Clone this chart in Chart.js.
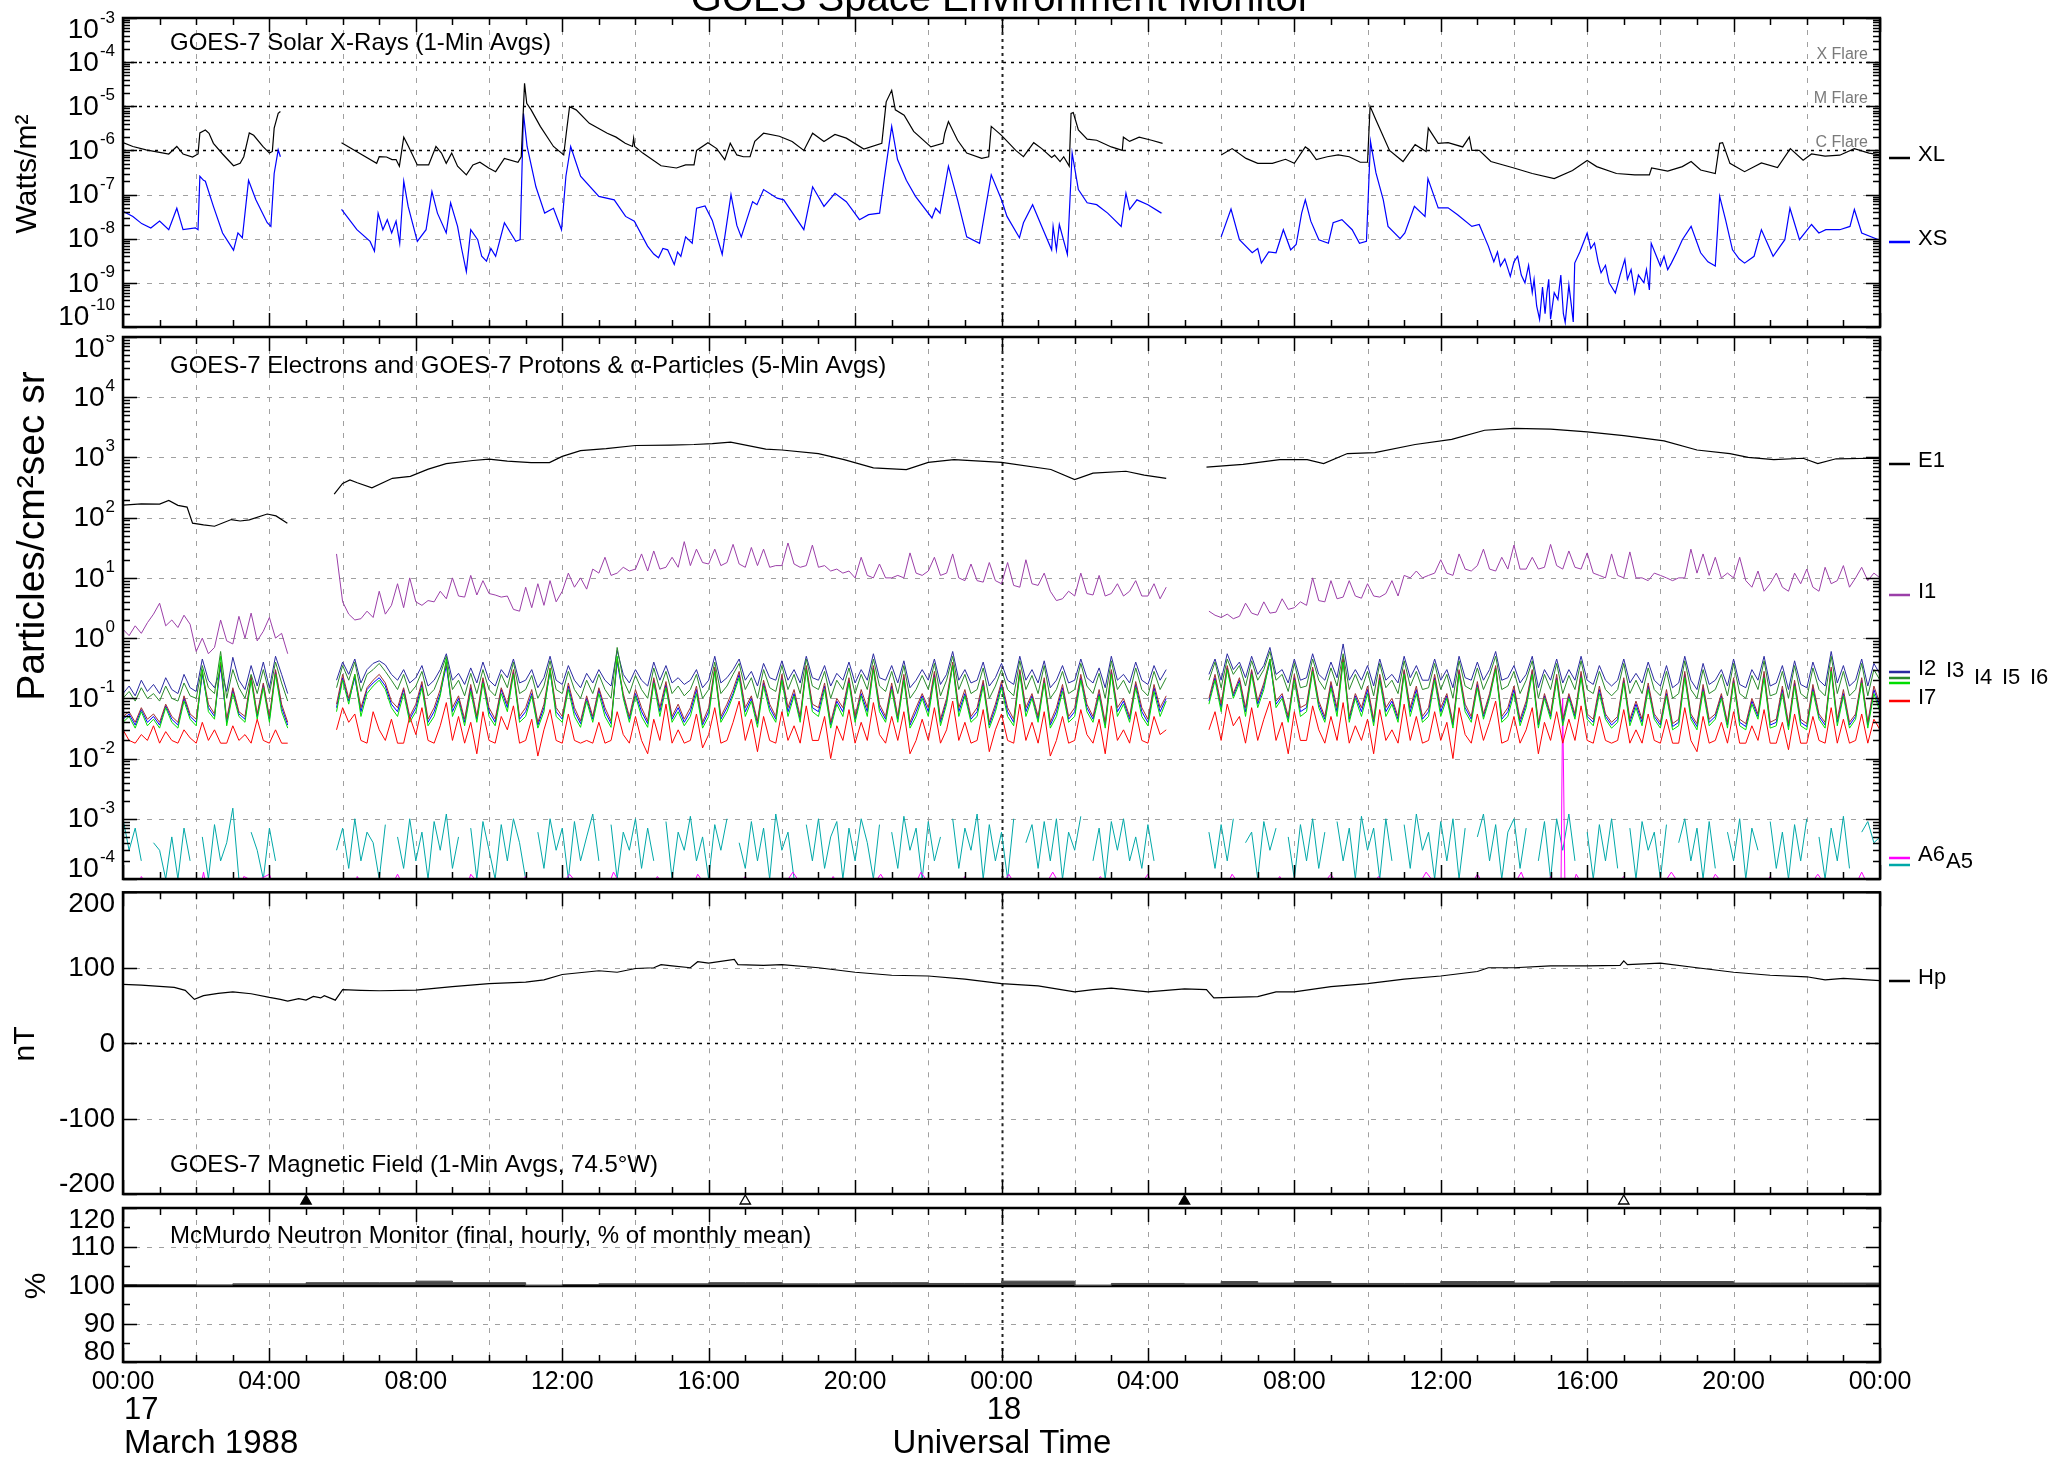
<!DOCTYPE html>
<html>
<head>
<meta charset="utf-8">
<script src="https://cdn.jsdelivr.net/npm/chart.js@4.4.0/dist/chart.umd.min.js"></script>
<style>
  body { margin: 0; background: #fff; width: 2051px; height: 1462px; overflow: hidden; position: relative; }
  canvas { position: absolute; left: 0; }
</style>
</head>
<body>
<canvas id="cX"></canvas>
<canvas id="cP"></canvas>
<canvas id="cM"></canvas>
<canvas id="cN"></canvas>
<script>
// GOES-7 plot, 17-18 March 1988. Time axis in hours since 17 Mar 00:00 UT.

// --- X-rays (1-min), [hour, W/m2], null = data gap
const xlData = [[0,1.5e-6],[0.27,1.23e-6],[0.63,1.03e-6],[1.0,9e-7],[1.25,8.3e-7],[1.47,1.23e-6],[1.64,8.3e-7],[1.9,7.1e-7],[2.05,8.3e-7],[2.1,2.5e-6],[2.25,2.9e-6],[2.35,2.45e-6],[2.47,1.45e-6],[2.72,8.3e-7],[3.02,4.5e-7],[3.2,5.1e-7],[3.3,7.2e-7],[3.45,2.5e-6],[3.57,2.2e-6],[3.82,1.23e-6],[4.0,8.7e-7],[4.08,9.5e-7],[4.13,3.2e-6],[4.24,6.9e-6],[4.3,7.6e-6],[5.0,null],
  [5.97,1.5e-6],[6.39,9.3e-7],[6.93,5.1e-7],[7.0,7.2e-7],[7.2,7.1e-7],[7.35,6.2e-7],[7.46,6.2e-7],[7.55,4.4e-7],[7.67,2.0e-6],[7.8,1.23e-6],[8.04,4.7e-7],[8.35,4.7e-7],[8.55,1.23e-6],[8.7,8.7e-7],[8.83,5.1e-7],[8.98,8.7e-7],[9.14,4.4e-7],[9.38,2.8e-7],[9.56,4.7e-7],[9.75,5.4e-7],[9.99,4e-7],[10.18,3.3e-7],[10.42,6.6e-7],[10.79,5.4e-7],[10.88,7.2e-7],[10.97,3.3e-5],[11.03,1.17e-5],[11.15,8.3e-6],[11.4,3.5e-6],[11.76,1.23e-6],[12.04,7.9e-7],[12.11,2.45e-6],[12.2,9.8e-6],[12.38,8.3e-6],[12.74,4.1e-6],[13.23,2.45e-6],[13.47,2.0e-6],[13.72,1.45e-6],[13.92,1.23e-6],[13.95,1.9e-6],[13.98,1.23e-6],[14.2,8.7e-7],[14.7,4.5e-7],[15.12,4e-7],[15.37,4.7e-7],[15.6,4.7e-7],[15.67,1.0e-6],[15.98,1.5e-6],[16.22,1.1e-6],[16.44,6.2e-7],[16.59,1.45e-6],[16.77,7.9e-7],[16.95,7.2e-7],[17.13,7.2e-7],[17.26,1.6e-6],[17.5,2.45e-6],[17.93,2.1e-6],[18.28,1.6e-6],[18.6,1e-6],[18.84,2.45e-6],[19.15,1.6e-6],[19.45,2.3e-6],[19.76,1.9e-6],[20.24,1.07e-6],[20.73,1.45e-6],[20.85,1.26e-5],[21.0,2.3e-5],[21.1,8.3e-6],[21.34,6.3e-6],[21.6,2.7e-6],[22.07,1.2e-6],[22.4,1.45e-6],[22.45,2.45e-6],[22.55,4.5e-6],[22.8,1.7e-6],[23.05,8.7e-7],[23.46,6.6e-7],[23.65,7.2e-7],[23.72,3.5e-6],[24.0,2.2e-6],[24.39,1e-6],[24.6,7.2e-7],[24.88,1.5e-6],[25.1,1.1e-6],[25.37,6.9e-7],[25.45,7.8e-7],[25.6,5.6e-7],[25.7,7.2e-7],[25.85,4.4e-7],[25.9,6.9e-6],[25.96,7.2e-6],[26.1,2.9e-6],[26.34,1.8e-6],[26.6,1.7e-6],[27.0,1.2e-6],[27.3,1e-6],[27.33,2.0e-6],[27.5,1.6e-6],[27.76,2.0e-6],[28.1,1.7e-6],[28.4,1.45e-6],[29.2,null],
  [30.0,7.9e-7],[30.3,1.1e-6],[30.68,6.6e-7],[31.0,5.1e-7],[31.4,5.1e-7],[31.76,6.3e-7],[32.0,5.1e-7],[32.3,1.2e-6],[32.4,1.05e-6],[32.6,6.2e-7],[32.9,7.2e-7],[33.2,7.9e-7],[33.5,7.2e-7],[33.8,5.4e-7],[34.0,5.4e-7],[34.07,1e-5],[34.23,4.9e-6],[34.6,1e-6],[34.97,5.6e-7],[35.3,1.35e-6],[35.6,9.5e-7],[35.66,3.2e-6],[35.93,1.45e-6],[36.2,1.5e-6],[36.6,1.2e-6],[36.78,2.0e-6],[36.85,1e-6],[37.05,1e-6],[37.37,5.6e-7],[38.0,4e-7],[38.5,3e-7],[39.1,2.3e-7],[39.6,3.5e-7],[40.0,5.9e-7],[40.26,4.3e-7],[40.8,3e-7],[41.3,2.8e-7],[41.7,2.8e-7],[41.76,4e-7],[42.2,3.4e-7],[42.6,4.3e-7],[42.84,5.6e-7],[43.1,3.6e-7],[43.5,3e-7],[43.62,1.45e-6],[43.7,1.5e-6],[43.9,5.1e-7],[44.3,3.3e-7],[44.76,5.2e-7],[45.2,4.1e-7],[45.55,1.1e-6],[45.9,6e-7],[46.13,8.3e-7],[46.5,7.4e-7],[46.9,7.8e-7],[47.3,1.1e-6],[47.7,8.7e-7],[48.0,7.9e-7]];

const xsData = [[0,4.2e-8],[0.27,3.2e-8],[0.51,2.2e-8],[0.76,1.75e-8],[1.0,2.5e-8],[1.25,1.6e-8],[1.47,4.9e-8],[1.64,1.6e-8],[1.98,1.75e-8],[2.05,1.6e-8],[2.1,2.6e-7],[2.2,2.1e-7],[2.25,2.0e-7],[2.47,5.4e-8],[2.72,1.35e-8],[3.02,5.5e-9],[3.14,1.35e-8],[3.26,1.05e-8],[3.43,2.1e-7],[3.63,7.6e-8],[3.94,2.3e-8],[4.04,1.9e-8],[4.13,3e-7],[4.24,1.03e-6],[4.3,7.2e-7],[5.0,null],
  [5.97,4.6e-8],[6.39,1.6e-8],[6.75,8.7e-9],[6.87,5.2e-9],[6.97,3.8e-8],[7.1,1.6e-8],[7.22,2.7e-8],[7.34,1.35e-8],[7.46,2.5e-8],[7.56,7.9e-9],[7.67,2.0e-7],[7.79,5.4e-8],[8.04,8.7e-9],[8.28,1.6e-8],[8.44,1.17e-7],[8.59,3.8e-8],[8.83,1.35e-8],[8.95,6.5e-8],[9.14,1.9e-8],[9.25,6e-9],[9.38,1.8e-9],[9.5,1.6e-8],[9.69,9.5e-9],[9.8,4e-9],[9.93,3.1e-9],[10.05,6e-9],[10.18,4e-9],[10.42,2.3e-8],[10.73,8.7e-9],[10.85,9.5e-9],[10.94,6.9e-6],[11.04,1.23e-6],[11.28,1.5e-7],[11.52,3.8e-8],[11.76,4.9e-8],[11.98,1.6e-8],[12.1,2.6e-7],[12.23,1.23e-6],[12.5,2.6e-7],[13.0,9.1e-8],[13.42,7.6e-8],[13.73,3.2e-8],[13.97,2.5e-8],[14.33,6.8e-9],[14.5,4.5e-9],[14.63,3.7e-9],[14.75,6e-9],[14.88,5.6e-9],[15.06,2.6e-9],[15.15,5e-9],[15.24,4e-9],[15.37,1.1e-8],[15.55,7.9e-9],[15.67,4.9e-8],[15.9,5.5e-8],[16.1,2.6e-8],[16.37,4.4e-9],[16.61,1e-7],[16.77,2e-8],[16.89,1.1e-8],[17.2,6.9e-8],[17.32,5.9e-8],[17.5,1.3e-7],[17.87,8.3e-8],[18.05,7.6e-8],[18.6,1.6e-8],[18.84,1.5e-7],[19.15,5.4e-8],[19.45,1.07e-7],[19.76,6.9e-8],[20.12,2.7e-8],[20.37,3.5e-8],[20.67,3.8e-8],[20.79,2.1e-7],[21.0,3.5e-6],[21.16,6.2e-7],[21.4,2.1e-7],[21.65,9.1e-8],[22.1,2.95e-8],[22.2,4.9e-8],[22.32,3.8e-8],[22.45,1.5e-7],[22.55,4.4e-7],[22.8,7.6e-8],[23.05,1.1e-8],[23.4,7.9e-9],[23.72,2.8e-7],[24.0,7.6e-8],[24.15,3.2e-8],[24.49,1.05e-8],[24.6,2.3e-8],[24.85,5.9e-8],[25.1,1.9e-8],[25.37,5.6e-9],[25.41,1.9e-8],[25.5,5.6e-9],[25.58,2.1e-8],[25.8,4.4e-9],[25.93,8.7e-7],[26.1,1.3e-7],[26.34,6.5e-8],[26.6,5.9e-8],[26.9,3.8e-8],[27.27,1.9e-8],[27.4,1.07e-7],[27.5,4.6e-8],[27.7,7.6e-8],[28.0,5.9e-8],[28.37,3.8e-8],[29.2,null],
  [30.0,1.1e-8],[30.27,4.7e-8],[30.5,9.5e-9],[30.85,4.8e-9],[31.0,6e-9],[31.1,2.8e-9],[31.3,5e-9],[31.5,4.8e-9],[31.7,1.6e-8],[31.9,5.6e-9],[32.05,7.4e-9],[32.2,3.8e-8],[32.3,7.6e-8],[32.45,2.5e-8],[32.67,9.5e-9],[32.93,7.9e-9],[33.06,2.3e-8],[33.3,2.7e-8],[33.58,1.6e-8],[33.78,7.9e-9],[33.97,8.7e-9],[34.08,1.6e-6],[34.23,3.1e-7],[34.43,7.6e-8],[34.56,1.9e-8],[34.89,1e-8],[35.02,1.35e-8],[35.28,5.4e-8],[35.57,3.2e-8],[35.65,2.3e-7],[35.93,5e-8],[36.2,5e-8],[36.46,3.5e-8],[36.85,1.9e-8],[37.05,2.1e-8],
  [37.3,6.8e-9],[37.45,3e-9],[37.55,5e-9],[37.63,2.4e-9],[37.75,3.5e-9],[37.9,1.4e-9],[38.0,3e-9],[38.1,4e-9],[38.2,1.5e-9],[38.3,1e-9],[38.4,2.5e-9],[38.5,6e-10],[38.55,1.2e-9],[38.62,3e-10],[38.7,1.5e-10],[38.78,8e-10],[38.85,2e-10],[38.9,5.9e-10],[38.95,1.2e-9],[39.0,1.5e-10],[39.1,6e-10],[39.2,4.2e-10],[39.28,1.5e-9],[39.35,2e-10],[39.4,1.26e-10],[39.5,9e-10],[39.57,3e-10],[39.62,1.3e-10],[39.66,2.8e-9],[39.8,5e-9],[40.0,1.35e-8],[40.1,6e-9],[40.2,8e-9],[40.3,3e-9],[40.38,1.7e-9],[40.5,2.5e-9],[40.6,1e-9],[40.77,5.9e-10],[40.9,1.5e-9],[41.03,3.4e-9],[41.1,1.2e-9],[41.2,2e-9],[41.3,5.9e-10],[41.4,1.5e-9],[41.55,1e-9],[41.62,2e-9],[41.7,6.9e-10],[41.75,7.9e-9],[42.0,2.4e-9],[42.1,4e-9],[42.2,2e-9],[42.3,2.8e-9],[42.45,5e-9],[42.6,9.5e-9],[42.84,1.9e-8],[43.1,4.8e-9],[43.3,3e-9],[43.5,2.4e-9],[43.62,9.1e-8],[43.78,2.7e-8],[43.97,5.6e-9],[44.15,3.5e-9],[44.3,2.8e-9],[44.56,4e-9],[44.76,1.6e-8],[45.08,4e-9],[45.4,9.5e-9],[45.54,4.9e-8],[45.8,9.5e-9],[46.13,2.1e-8],[46.33,1.35e-8],[46.52,1.6e-8],[46.9,1.6e-8],[47.18,1.9e-8],[47.3,4.6e-8],[47.5,1.35e-8],[47.96,9.5e-9]];

// --- electrons E1, [hour, particles/cm2 s sr]
const e1Data = [[0,162],[0.5,170],[1.0,168],[1.25,193],[1.5,160],[1.75,150],[1.9,81],[2.2,76],[2.5,72],[2.96,93],[3.2,88],[3.45,92],[3.94,115],[4.18,107],[4.49,81],[5.0,null],
  [5.77,245],[6.0,370],[6.2,424],[6.4,380],[6.8,313],[7.36,450],[7.85,486],[8.34,640],[8.83,790],[9.56,890],[10.0,940],[10.5,870],[11.15,820],[11.65,820],[12.0,1040],[12.5,1300],[13.2,1400],[14.0,1580],[14.95,1600],[15.6,1640],[16.1,1700],[16.6,1800],[17.56,1370],[18.0,1330],[19.0,1160],[19.7,920],[20.5,670],[21.4,630],[22.0,830],[22.7,920],[23.3,880],[24.0,830],[25.35,630],[26.0,430],[26.5,550],[27.4,590],[27.9,510],[28.5,450],[29.0,null],
  [29.6,690],[30.6,770],[31.6,920],[32.35,920],[32.8,790],[33.45,1160],[34.2,1200],[35.3,1640],[36.3,2000],[37.2,2830],[38.0,3030],[39.0,2950],[40.0,2650],[41.0,2300],[42.1,1880],[43.0,1330],[43.9,1160],[44.4,1000],[45.1,920],[45.9,970],[46.3,790],[46.8,950],[47.8,970],[48,960]];

// --- protons & alphas, 10-min samples from 00:00 (index/6 = hour), null = gap
const i1Vals = [
  1.4,1.1,1.6,1.2,1.8,2.5,3.8,1.6,2.0,1.5,2.4,1.7,  0.6,1.0,0.55,0.7,2.0,0.9,0.8,2.3,1.0,2.6,0.9,1.3,  2.2,1.0,1.2,0.55,
  null,null,null,null,null,null,null,
  25,
  4,2.5,2.0,2.1,2.8,2.2,6,2.5,3.5,8,3.2,10,  4,3.5,4.2,4,6,4.5,10,5,4.8,11,5.2,9,  5.5,5.2,4.8,5,3.0,2.8,7,3.2,8,3.5,9,4,
  6,12,7,10,6.5,14,12,22,11,12,15,13,  14,25,13,28,14,15,22,15,40,16,30,18,  17,30,16,18,36,17,15,32,16,30,15,16,
  16,38,17,15,16,35,15,16,13,14,12,13,  10,22,11,10,17,10,10,11,10,26,12,11,  13,22,11,12,25,10,9,17,9,8.5,18,9,
  8,18,7.5,7,20,8,7.5,12,6,4.2,4.5,6,  5,12,5.5,5.2,11,5,5.5,8,5,6,9,5,  5,8,4.5,7,
  null,null,null,null,null,null,
  2.8,2.4,
  2.2,2.5,2.1,2.3,3.8,2.6,2.4,4.0,2.6,2.7,4.5,3.0,  3.2,4,3.5,10,4.2,4,9,4.5,4.8,9,5,4.6,  8,5,4.8,5.5,9,5,11,10,13,10,11,12,
  20,12,11,25,14,13,16,30,14,13,22,14,  35,14,14,22,14,15,36,16,14,28,15,14,  26,12,11,10,25,11,10,27,10,10,9,12,
  11,10,9,10,10,30,12,25,11,22,10,12,  10,22,9,7,13,6,8,12,7,6,12,8,  14,7,6,15,8,9,16,7,10,15,9,12,
  10];
const i2Vals = [
  0.12,0.16,0.11,0.2,0.13,0.17,0.12,0.22,0.14,0.12,0.25,0.15,  0.13,0.45,0.2,0.15,0.3,0.13,0.48,0.2,0.14,0.35,0.16,0.4,  0.15,0.5,0.25,0.12,
  null,null,null,null,null,null,null,
  0.2,
  0.4,0.25,0.45,0.18,0.3,0.38,0.42,0.36,0.25,0.2,0.3,0.18,  0.22,0.35,0.16,0.2,0.3,0.55,0.2,0.26,0.17,0.32,0.18,0.4,  0.2,0.16,0.3,0.22,0.45,0.18,0.2,0.3,0.15,0.22,0.5,0.2,
  0.17,0.35,0.2,0.15,0.26,0.18,0.3,0.2,0.16,0.62,0.25,0.18,  0.3,0.2,0.16,0.4,0.2,0.35,0.18,0.22,0.17,0.2,0.3,0.15,  0.2,0.5,0.18,0.22,0.3,0.45,0.2,0.28,0.16,0.38,0.22,0.2,
  0.42,0.2,0.3,0.18,0.5,0.22,0.2,0.35,0.16,0.26,0.2,0.4,  0.18,0.3,0.2,0.55,0.22,0.2,0.35,0.18,0.42,0.15,0.2,0.3,  0.2,0.45,0.17,0.25,0.6,0.2,0.3,0.18,0.2,0.4,0.16,0.22,
  0.38,0.2,0.17,0.5,0.2,0.3,0.18,0.42,0.15,0.2,0.35,0.18,  0.2,0.45,0.22,0.18,0.32,0.15,0.5,0.2,0.25,0.18,0.4,0.2,  0.17,0.35,0.2,0.3,
  null,null,null,null,null,null,
  0.25,0.45,
  0.2,0.55,0.3,0.4,0.22,0.5,0.25,0.35,0.7,0.25,0.3,0.18,  0.45,0.2,0.22,0.55,0.25,0.2,0.4,0.22,0.8,0.2,0.3,0.2,  0.35,0.16,0.45,0.2,0.25,0.18,0.5,0.22,0.35,0.2,0.2,0.45,
  0.2,0.3,0.15,0.5,0.22,0.2,0.4,0.2,0.3,0.6,0.2,0.22,  0.35,0.18,0.25,0.5,0.15,0.3,0.2,0.45,0.18,0.3,0.2,0.5,  0.2,0.17,0.35,0.2,0.16,0.2,0.45,0.18,0.26,0.18,0.4,0.2,
  0.16,0.35,0.15,0.18,0.5,0.2,0.14,0.38,0.17,0.2,0.3,0.16,  0.45,0.17,0.15,0.3,0.2,0.5,0.16,0.18,0.35,0.14,0.42,0.17,  0.15,0.4,0.2,0.16,0.6,0.18,0.35,0.16,0.2,0.45,0.16,0.38,
  0.25];
const i3Vals = [
  0.045,0.055,0.036,0.065,0.04,0.05,0.036,0.075,0.045,0.036,0.1,0.05,  0.04,0.25,0.07,0.05,0.35,0.04,0.14,0.055,0.045,0.22,0.05,0.17,  0.045,0.28,0.07,0.036,
  null,null,null,null,null,null,null,
  0.07,
  0.22,0.09,0.22,0.06,0.14,0.18,0.22,0.16,0.08,0.06,0.14,0.045,  0.07,0.17,0.04,0.06,0.12,0.35,0.06,0.1,0.04,0.15,0.045,0.2,  0.06,0.04,0.14,0.07,0.27,0.045,0.06,0.12,0.036,0.07,0.28,0.06,
  0.045,0.16,0.06,0.038,0.1,0.045,0.14,0.06,0.038,0.4,0.11,0.045,  0.12,0.06,0.038,0.2,0.06,0.17,0.045,0.07,0.04,0.06,0.14,0.036,  0.06,0.3,0.045,0.07,0.12,0.25,0.06,0.1,0.038,0.18,0.07,0.045,
  0.22,0.06,0.12,0.045,0.32,0.07,0.06,0.16,0.036,0.09,0.06,0.2,  0.045,0.12,0.06,0.32,0.07,0.045,0.16,0.045,0.22,0.036,0.06,0.11,  0.06,0.25,0.04,0.09,0.36,0.06,0.12,0.045,0.06,0.18,0.036,0.07,
  0.17,0.06,0.04,0.28,0.06,0.11,0.045,0.2,0.036,0.06,0.15,0.045,  0.06,0.22,0.07,0.045,0.12,0.036,0.28,0.06,0.09,0.045,0.17,0.06,  0.04,0.15,0.06,0.1,
  null,null,null,null,null,null,
  0.09,0.22,
  0.07,0.32,0.11,0.2,0.06,0.28,0.08,0.16,0.4,0.08,0.11,0.045,  0.22,0.06,0.07,0.3,0.08,0.045,0.17,0.06,0.45,0.045,0.11,0.06,  0.14,0.04,0.22,0.06,0.09,0.045,0.28,0.06,0.14,0.045,0.06,0.22,
  0.06,0.11,0.036,0.28,0.07,0.045,0.17,0.05,0.11,0.32,0.045,0.06,  0.14,0.04,0.08,0.28,0.036,0.11,0.05,0.22,0.04,0.11,0.05,0.25,  0.05,0.04,0.14,0.05,0.036,0.045,0.2,0.04,0.08,0.04,0.16,0.05,
  0.036,0.12,0.034,0.04,0.25,0.05,0.034,0.15,0.04,0.05,0.11,0.036,  0.2,0.04,0.034,0.09,0.05,0.25,0.036,0.04,0.14,0.034,0.18,0.04,  0.034,0.15,0.05,0.036,0.3,0.04,0.12,0.036,0.05,0.2,0.036,0.14,
  0.07];
const i4Vals = [
  0.05,0.06,0.04,0.07,0.045,0.055,0.04,0.08,0.05,0.04,0.11,0.055,  0.045,0.28,0.08,0.055,0.4,0.045,0.15,0.06,0.05,0.24,0.055,0.18,  0.05,0.3,0.08,0.04,
  null,null,null,null,null,null,null,
  0.08,
  0.25,0.1,0.25,0.07,0.15,0.2,0.25,0.18,0.09,0.07,0.15,0.05,  0.08,0.19,0.045,0.07,0.14,0.4,0.07,0.11,0.045,0.17,0.05,0.22,  0.07,0.045,0.15,0.08,0.3,0.05,0.07,0.14,0.04,0.08,0.32,0.07,
  0.05,0.18,0.07,0.042,0.11,0.05,0.15,0.07,0.042,0.45,0.12,0.05,  0.14,0.07,0.042,0.22,0.07,0.19,0.05,0.08,0.045,0.07,0.16,0.04,  0.07,0.33,0.05,0.08,0.14,0.28,0.07,0.11,0.042,0.2,0.08,0.05,
  0.25,0.07,0.14,0.05,0.35,0.08,0.07,0.18,0.04,0.1,0.07,0.22,  0.05,0.14,0.07,0.35,0.08,0.05,0.18,0.05,0.25,0.04,0.07,0.12,  0.07,0.28,0.045,0.1,0.4,0.07,0.14,0.05,0.07,0.2,0.04,0.08,
  0.19,0.07,0.045,0.3,0.07,0.12,0.05,0.22,0.04,0.07,0.17,0.05,  0.07,0.25,0.08,0.05,0.14,0.04,0.3,0.07,0.1,0.05,0.19,0.07,  0.045,0.17,0.07,0.11,
  null,null,null,null,null,null,
  0.1,0.25,
  0.08,0.35,0.12,0.22,0.07,0.3,0.09,0.18,0.45,0.09,0.12,0.05,  0.25,0.07,0.08,0.33,0.09,0.05,0.19,0.07,0.5,0.05,0.12,0.07,  0.16,0.045,0.25,0.07,0.1,0.05,0.3,0.07,0.16,0.05,0.07,0.25,
  0.07,0.12,0.04,0.3,0.08,0.05,0.19,0.055,0.12,0.35,0.05,0.07,  0.16,0.045,0.09,0.3,0.04,0.12,0.055,0.25,0.045,0.12,0.055,0.28,  0.055,0.045,0.16,0.055,0.04,0.05,0.22,0.045,0.09,0.045,0.18,0.055,
  0.04,0.14,0.038,0.045,0.28,0.055,0.038,0.17,0.045,0.055,0.12,0.04,  0.22,0.045,0.038,0.1,0.055,0.28,0.04,0.045,0.16,0.038,0.2,0.045,  0.038,0.17,0.055,0.04,0.33,0.045,0.14,0.04,0.055,0.22,0.04,0.16,
  0.08];
const i5Vals = [
  0.1,0.13,0.09,0.15,0.1,0.12,0.09,0.16,0.1,0.09,0.18,0.11,  0.1,0.35,0.15,0.12,0.6,0.1,0.3,0.15,0.1,0.25,0.12,0.3,  0.12,0.4,0.18,0.09,
  null,null,null,null,null,null,null,
  0.15,
  0.35,0.2,0.4,0.13,0.25,0.3,0.38,0.28,0.2,0.14,0.25,0.12,  0.16,0.28,0.11,0.14,0.25,0.5,0.14,0.2,0.11,0.26,0.12,0.3,  0.14,0.11,0.25,0.15,0.4,0.12,0.14,0.24,0.1,0.16,0.42,0.14,
  0.12,0.28,0.14,0.1,0.2,0.12,0.25,0.14,0.1,0.7,0.2,0.12,  0.24,0.14,0.1,0.32,0.14,0.28,0.12,0.16,0.11,0.14,0.25,0.1,  0.14,0.4,0.12,0.16,0.25,0.38,0.14,0.22,0.1,0.3,0.15,0.13,
  0.35,0.14,0.25,0.12,0.45,0.16,0.14,0.28,0.1,0.2,0.14,0.32,  0.12,0.25,0.14,0.45,0.16,0.13,0.28,0.12,0.35,0.1,0.14,0.24,  0.14,0.38,0.11,0.2,0.5,0.14,0.25,0.12,0.14,0.32,0.1,0.16,
  0.3,0.14,0.11,0.42,0.14,0.24,0.12,0.35,0.1,0.14,0.28,0.12,  0.14,0.38,0.16,0.12,0.26,0.1,0.42,0.14,0.2,0.12,0.32,0.14,  0.11,0.28,0.14,0.22,
  null,null,null,null,null,null,
  0.2,0.4,
  0.15,0.45,0.25,0.35,0.16,0.42,0.2,0.3,0.6,0.2,0.25,0.13,  0.38,0.15,0.16,0.45,0.2,0.14,0.32,0.16,0.55,0.14,0.25,0.14,  0.28,0.11,0.38,0.15,0.2,0.12,0.42,0.16,0.28,0.14,0.15,0.38,
  0.14,0.25,0.1,0.42,0.16,0.14,0.32,0.14,0.24,0.5,0.14,0.16,  0.28,0.12,0.2,0.42,0.1,0.25,0.14,0.38,0.12,0.24,0.14,0.42,  0.14,0.12,0.28,0.14,0.11,0.14,0.38,0.12,0.2,0.12,0.32,0.14,
  0.11,0.28,0.1,0.12,0.42,0.14,0.1,0.3,0.12,0.14,0.25,0.11,  0.38,0.12,0.1,0.24,0.14,0.42,0.11,0.12,0.28,0.1,0.35,0.12,  0.1,0.32,0.14,0.11,0.5,0.12,0.28,0.11,0.14,0.38,0.11,0.3,
  0.2];
const i6Vals = [
  0.04,0.05,0.032,0.06,0.035,0.045,0.032,0.07,0.04,0.032,0.09,0.045,  0.035,0.3,0.06,0.045,0.5,0.035,0.12,0.05,0.04,0.2,0.045,0.15,  0.04,0.25,0.06,0.032,
  null,null,null,null,null,null,null,
  0.06,
  0.2,0.08,0.25,0.05,0.12,0.16,0.2,0.14,0.07,0.05,0.12,0.04,  0.06,0.15,0.035,0.05,0.11,0.45,0.05,0.09,0.035,0.13,0.04,0.18,  0.05,0.035,0.12,0.06,0.25,0.04,0.05,0.11,0.032,0.06,0.3,0.05,
  0.04,0.14,0.05,0.033,0.09,0.04,0.12,0.05,0.033,0.5,0.1,0.04,  0.11,0.05,0.033,0.18,0.05,0.15,0.04,0.06,0.035,0.05,0.12,0.032,  0.05,0.28,0.04,0.06,0.11,0.22,0.05,0.09,0.033,0.16,0.06,0.04,
  0.2,0.05,0.11,0.04,0.3,0.06,0.05,0.14,0.032,0.08,0.05,0.18,  0.04,0.11,0.05,0.3,0.06,0.04,0.14,0.04,0.2,0.032,0.05,0.1,  0.05,0.22,0.035,0.08,0.35,0.05,0.11,0.04,0.05,0.16,0.032,0.06,
  0.15,0.05,0.035,0.25,0.05,0.1,0.04,0.18,0.032,0.05,0.13,0.04,  0.05,0.2,0.06,0.04,0.11,0.032,0.25,0.05,0.08,0.04,0.15,0.05,  0.035,0.13,0.05,0.09,
  null,null,null,null,null,null,
  0.08,0.2,
  0.06,0.3,0.1,0.18,0.05,0.25,0.07,0.14,0.45,0.07,0.1,0.04,  0.2,0.05,0.06,0.28,0.07,0.04,0.15,0.05,0.4,0.04,0.1,0.05,  0.12,0.035,0.2,0.05,0.08,0.04,0.25,0.05,0.12,0.04,0.05,0.2,
  0.05,0.1,0.032,0.25,0.06,0.04,0.15,0.045,0.1,0.3,0.04,0.05,  0.12,0.035,0.07,0.25,0.032,0.1,0.045,0.2,0.035,0.1,0.045,0.22,  0.045,0.035,0.12,0.045,0.032,0.04,0.18,0.035,0.07,0.035,0.14,0.045,
  0.032,0.11,0.03,0.035,0.22,0.045,0.03,0.13,0.035,0.045,0.1,0.032,  0.18,0.035,0.03,0.08,0.045,0.22,0.032,0.035,0.12,0.03,0.16,0.035,  0.03,0.13,0.045,0.032,0.28,0.035,0.11,0.032,0.045,0.18,0.032,0.12,
  0.06];
const i7Vals = [
  0.03,0.02,0.018,0.025,0.02,0.035,0.018,0.028,0.02,0.018,0.03,0.022,  0.018,0.04,0.02,0.03,0.018,0.018,0.035,0.02,0.025,0.018,0.045,0.02,  0.018,0.03,0.018,0.018,
  null,null,null,null,null,null,null,
  0.03,
  0.07,0.04,0.055,0.02,0.018,0.06,0.03,0.02,0.045,0.018,0.018,0.05,  0.025,0.07,0.02,0.018,0.035,0.085,0.02,0.05,0.018,0.04,0.012,0.06,  0.02,0.018,0.05,0.03,0.075,0.018,0.02,0.045,0.011,0.03,0.065,0.02,
  0.018,0.055,0.02,0.018,0.02,0.018,0.04,0.018,0.02,0.06,0.025,0.018,  0.05,0.02,0.012,0.045,0.02,0.08,0.018,0.03,0.018,0.02,0.055,0.015,  0.025,0.07,0.018,0.02,0.04,0.09,0.02,0.045,0.013,0.05,0.02,0.018,
  0.06,0.02,0.035,0.018,0.075,0.02,0.02,0.05,0.01,0.035,0.02,0.065,  0.018,0.04,0.02,0.085,0.025,0.018,0.05,0.02,0.06,0.012,0.02,0.045,  0.02,0.07,0.018,0.03,0.09,0.02,0.04,0.018,0.02,0.065,0.013,0.03,
  0.055,0.02,0.018,0.08,0.02,0.04,0.018,0.06,0.011,0.02,0.05,0.018,  0.02,0.065,0.025,0.018,0.045,0.012,0.075,0.02,0.03,0.018,0.06,0.02,  0.018,0.05,0.025,0.03,
  null,null,null,null,null,null,
  0.03,0.06,
  0.02,0.08,0.035,0.05,0.018,0.07,0.02,0.045,0.09,0.02,0.04,0.012,  0.06,0.02,0.02,0.075,0.03,0.018,0.05,0.02,0.085,0.018,0.035,0.02,  0.045,0.012,0.065,0.02,0.03,0.018,0.08,0.02,0.05,0.018,0.02,0.06,
  0.02,0.04,0.01,0.07,0.025,0.018,0.055,0.02,0.04,0.09,0.018,0.02,  0.05,0.018,0.03,0.07,0.012,0.04,0.02,0.06,0.018,0.045,0.02,0.075,  0.02,0.018,0.05,0.02,0.018,0.02,0.065,0.018,0.03,0.018,0.055,0.02,
  0.018,0.045,0.018,0.018,0.07,0.02,0.013,0.05,0.018,0.02,0.04,0.018,  0.06,0.018,0.018,0.035,0.02,0.065,0.018,0.018,0.04,0.014,0.055,0.018,  0.018,0.05,0.02,0.018,0.07,0.018,0.045,0.018,0.02,0.055,0.018,0.045,
  0.03];
const a5Vals = [
  1e-3,3e-4,7e-4,2e-4,null,4e-4,3e-4,1e-4,5e-4,1e-4,7e-4,2e-4,  null,5e-4,1e-4,8e-4,2e-4,4e-4,1.5e-3,1e-4,null,6e-4,3e-4,1e-4,  7e-4,2e-4,null,4e-4,
  null,null,null,null,null,null,null,
  3e-4,
  7e-4,1.5e-4,1e-3,2e-4,6e-4,4e-4,1e-4,8e-4,null,5e-4,1.5e-4,1e-3,  2e-4,6e-4,1e-4,9e-4,3e-4,1.2e-3,1.5e-4,5e-4,null,7e-4,1e-4,9e-4,  3e-4,1e-4,8e-4,2e-4,1e-3,4e-4,1e-4,null,6e-4,1.5e-4,1e-3,3e-4,
  7e-4,1e-4,9e-4,2e-4,5e-4,1.2e-3,2e-4,null,8e-4,1e-4,6e-4,3e-4,  1e-3,1.5e-4,7e-4,2e-4,null,9e-4,1e-4,6e-4,3e-4,1.1e-3,2e-4,5e-4,  1e-4,8e-4,3e-4,1e-3,null,4e-4,1.5e-4,9e-4,2e-4,7e-4,1e-4,1.2e-3,
  3e-4,6e-4,1e-4,null,8e-4,2e-4,1e-3,1.5e-4,5e-4,9e-4,1e-4,7e-4,  2e-4,1e-3,4e-4,1e-4,8e-4,null,6e-4,1.5e-4,1.1e-3,3e-4,7e-4,1e-4,  9e-4,2e-4,5e-4,null,1e-3,1.5e-4,7e-4,3e-4,1.2e-3,1e-4,8e-4,2e-4,
  6e-4,1e-4,1e-3,null,4e-4,8e-4,1.5e-4,9e-4,2e-4,1e-3,1e-4,6e-4,  3e-4,1.1e-3,null,2e-4,7e-4,1e-4,9e-4,3e-4,1e-3,2e-4,5e-4,1.5e-4,  8e-4,2e-4,null,5e-4,
  null,null,null,null,null,null,
  6e-4,1.5e-4,
  8e-4,2e-4,1e-3,null,4e-4,6e-4,1e-4,9e-4,3e-4,7e-4,null,5e-4,  1e-4,8e-4,2e-4,1e-3,1.5e-4,6e-4,null,9e-4,2e-4,7e-4,1e-4,1.1e-3,  3e-4,7e-4,1e-4,1e-3,2e-4,null,8e-4,1.5e-4,1.2e-3,3e-4,6e-4,1e-4,
  9e-4,2e-4,1e-3,1e-4,7e-4,null,5e-4,1.2e-3,2e-4,8e-4,1e-4,6e-4,  1e-3,1.5e-4,7e-4,null,2e-4,9e-4,1e-4,1e-3,3e-4,1.2e-3,2e-4,null,  6e-4,1e-4,8e-4,2e-4,1e-3,1.5e-4,null,7e-4,1e-4,9e-4,3e-4,6e-4,
  1e-4,8e-4,null,4e-4,1e-3,2e-4,7e-4,1e-4,9e-4,1.5e-4,null,6e-4,  2e-4,1e-3,1e-4,7e-4,3e-4,null,9e-4,1.5e-4,6e-4,1e-4,8e-4,2e-4,  1e-3,null,5e-4,1e-4,7e-4,2e-4,1.1e-3,1.5e-4,null,6e-4,9e-4,4e-4,
  5e-4];

// A6 mostly sits below the axis floor; [hour, value]
const a6Data = [[0.2,3e-5],[0.5,1.1e-4],[0.8,6e-5],[1.1,3e-5],[2.0,3e-5],[2.2,1.3e-4],[2.4,3e-5],[3.0,3e-5],[3.3,1.1e-4],[3.6,9e-5],[4.0,1.2e-4],[4.3,3e-5],[5.0,null],
  [6.1,3e-5],[6.4,1.1e-4],[7.0,3e-5],[7.5,1.2e-4],[8.0,3e-5],[8.5,9e-5],[9.2,3e-5],[9.5,1.2e-4],[10.3,3e-5],[11.0,1.1e-4],[11.5,3e-5],[12.2,1.2e-4],[13.0,3e-5],[13.4,1.3e-4],[14.0,3e-5],[14.6,1.1e-4],[15.3,3e-5],[15.7,1.2e-4],[16.4,3e-5],[17.0,1.1e-4],[17.6,3e-5],[18.3,1.3e-4],[19.0,3e-5],[19.4,1.1e-4],[20.0,3e-5],[20.7,1.2e-4],[21.3,3e-5],[21.8,1.3e-4],[22.5,3e-5],[23.0,1.1e-4],[23.6,3e-5],[24.2,1.2e-4],[24.8,3e-5],[25.4,1.3e-4],[26.0,3e-5],[26.7,1.1e-4],[27.3,3e-5],[28.0,1.2e-4],[28.4,3e-5],[29.0,null],
  [29.8,3e-5],[30.3,1.2e-4],[31.0,3e-5],[31.6,1.1e-4],[32.2,3e-5],[33.0,1.2e-4],[33.6,3e-5],[34.3,1.1e-4],[35.0,3e-5],[35.6,1.3e-4],[36.4,3e-5],[37.0,1.2e-4],[37.6,3e-5],[38.2,1.3e-4],[38.6,3e-5],[39.0,1.1e-4],[39.28,3e-5],[39.33,0.1],[39.4,3e-5],[39.7,1.2e-4],[40.3,3e-5],[41.0,1.1e-4],[41.6,3e-5],[42.3,1.3e-4],[43.0,3e-5],[43.5,1.2e-4],[44.3,3e-5],[45.0,1.1e-4],[45.6,3e-5],[46.3,1.2e-4],[47.0,3e-5],[47.5,1.3e-4],[48,3e-5]];

// --- magnetic field Hp, [hour, nT]
const hpData = [[0,77.8],[0.5,77],[1,75.4],[1.4,74],[1.7,70],[1.95,58],[2.2,63],[2.6,66],[3,68],[3.5,65.5],[4,60.6],[4.3,58],[4.5,55.7],[4.8,59],[5,57],[5.2,62],[5.4,60],[5.5,63],[5.8,57],[6,71],[6.5,70],[7,69.5],[8,70.4],[9,75],[10,78.8],[11,81],[11.5,84],[12,91],[13,96],[13.5,94],[14,99],[14.5,100],[14.7,104],[15,102.5],[15.5,100],[15.7,108],[16,106],[16.7,111],[16.8,104],[17.5,103],[18,104],[19,100],[20,94],[21,90],[22,89],[23,85],[24,79],[25,76],[26,68],[26.5,71],[27,73],[28,68],[29,72],[29.6,71],[29.8,60],[31,61.6],[31.5,68],[32,68],[33,75],[34,79],[35,85],[36,89],[37,95],[37.3,100],[38,100],[39,102.5],[40,102.5],[40.9,103],[41,109],[41.1,104],[42,106],[43,100],[44,94],[45,90],[46,88],[46.5,84],[47,86],[48,83]];

// --- McMurdo neutron monitor, hourly % of monthly mean (hour 0..47)
const nmVals = [100.1,100.1,100.1,100.0,100.3,100.3,100.6,100.6,100.6,101.0,100.6,100.6,99.9,100.1,100.3,100.3,100.3,100.6,100.6,100.3,100.3,100.6,100.6,100.4,
  100.4,101.0,101.0,99.9,100.4,100.4,100.3,100.9,100.5,100.9,100.4,100.4,100.4,100.9,100.9,100.5,100.9,100.9,100.9,100.9,100.9,100.5,100.5,100.5];

// satellite local noon / midnight markers
const markHours = [5, 17, 29, 41];
const markFilled = [true, false, true, false];

const FONT = '"Liberation Sans", Arial, sans-serif';
const pairs = d => d.map(p => ({x: p[0], y: p[1]}));
const grid10 = v => v.map((y, i) => ({x: i / 6, y}));

function txt(ctx, s, x, y, size, align, base, color) {
  ctx.font = size + 'px ' + FONT;
  ctx.textAlign = align || 'left';
  ctx.textBaseline = base || 'alphabetic';
  ctx.fillStyle = color || '#000';
  ctx.fillText(s, x, y);
}

function yTickList(c, ys) {
  const out = [];
  if (c.log) {
    const e0 = Math.round(Math.log10(ys.min)), e1 = Math.round(Math.log10(ys.max));
    for (let e = e0; e < e1; e++) for (let k = 1; k <= 9; k++) out.push([k * Math.pow(10, e), k === 1]);
    out.push([Math.pow(10, e1), true]);
  } else {
    for (let v = ys.min; v <= ys.max + 1e-9; v += c.minor) out.push([v, Math.abs((v - ys.min) % c.major) < 1e-9]);
  }
  return out;
}

function makeDeco(c) {
  return {
    id: 'deco',
    beforeDatasetsDraw(chart) {
      const ctx = chart.ctx, a = chart.chartArea, xs = chart.scales.x, ys = chart.scales.y;
      ctx.save();
      for (let h = 2; h < 48; h += 2) {
        const px = Math.round(xs.getPixelForValue(h)) + 0.5;
        ctx.beginPath();
        if (h === 24) { ctx.strokeStyle = '#222'; ctx.lineWidth = 2; ctx.setLineDash([3, 4]); }
        else { ctx.strokeStyle = '#a0a0a0'; ctx.lineWidth = 1; ctx.setLineDash([5, 7]); }
        ctx.moveTo(px, a.top); ctx.lineTo(px, a.bottom); ctx.stroke();
      }
      c.hlines.forEach(l => {
        const py = Math.round(ys.getPixelForValue(l[0])) + 0.5;
        ctx.beginPath();
        if (l[1]) { ctx.strokeStyle = '#000'; ctx.lineWidth = 1.5; ctx.setLineDash([3, 5]); }
        else { ctx.strokeStyle = '#a0a0a0'; ctx.lineWidth = 1; ctx.setLineDash([5, 7]); }
        ctx.moveTo(a.left, py); ctx.lineTo(a.right, py); ctx.stroke();
      });
      if (c.baseLine !== undefined) {
        const py = Math.round(ys.getPixelForValue(c.baseLine)) + 1;
        ctx.setLineDash([]);
        ctx.strokeStyle = '#000'; ctx.lineWidth = 2.5;
        ctx.beginPath(); ctx.moveTo(a.left, py); ctx.lineTo(a.right, py); ctx.stroke();
      }
      ctx.restore();
    },
    afterDraw(chart) {
      const ctx = chart.ctx, a = chart.chartArea, xs = chart.scales.x, ys = chart.scales.y;
      const off = c.top;
      ctx.save();
      ctx.strokeStyle = '#000'; ctx.lineWidth = 1.5;
      ctx.beginPath();
      for (let h = 0; h <= 48; h++) {
        const px = Math.round(xs.getPixelForValue(h)) + 0.5, len = h % 4 ? 7 : 14;
        ctx.moveTo(px, a.top); ctx.lineTo(px, a.top + len);
        ctx.moveTo(px, a.bottom); ctx.lineTo(px, a.bottom - len);
      }
      yTickList(c, ys).forEach(t => {
        const py = Math.round(ys.getPixelForValue(t[0])) + 0.5, len = t[1] ? 14 : 7;
        ctx.moveTo(a.left, py); ctx.lineTo(a.left + len, py);
        ctx.moveTo(a.right, py); ctx.lineTo(a.right - len, py);
      });
      ctx.stroke();
      ctx.lineWidth = 2.5;
      ctx.strokeRect(a.left, a.top, a.right - a.left, a.bottom - a.top);

      // y tick labels, the end ones pulled inside the frame
      const xr = a.left - 8;
      const clampY = py => Math.min(Math.max(py, a.top + 11), a.bottom - 11);
      yTickList(c, ys).filter(t => t[1]).forEach(t => {
        const cy = clampY(ys.getPixelForValue(t[0]));
        if (c.log) {
          const es = String(Math.round(Math.log10(t[0])));
          ctx.font = '17px ' + FONT;
          const w = ctx.measureText(es).width;
          txt(ctx, es, xr, cy - 6, 17, 'right');
          txt(ctx, '10', xr - w - 1, cy + 1, 28, 'right', 'middle');
        } else {
          txt(ctx, String(t[0]), xr, cy + 1, 28, 'right', 'middle');
        }
      });

      // flare level names
      (c.flares || []).forEach(f => {
        txt(ctx, f[0], a.right - 12, ys.getPixelForValue(f[1]) - 3, 16, 'right', 'alphabetic', '#7a7a7a');
      });

      // legend keys on the right
      ctx.lineWidth = 2.5;
      (c.keys || []).forEach(k => {
        ctx.strokeStyle = k[0];
        ctx.beginPath(); ctx.moveTo(a.right + 9, k[1] - off); ctx.lineTo(a.right + 30, k[1] - off); ctx.stroke();
      });

      if (c.xlabels) {
        for (let h = 0; h <= 48; h += 4) {
          const s = String(h % 24).padStart(2, '0') + ':00';
          txt(ctx, s, xs.getPixelForValue(h), a.bottom + 20, 25, 'center', 'middle');
        }
      }
      (c.texts || []).forEach(t => {
        if (t.rot) {
          ctx.save();
          ctx.translate(t.x, t.y - off);
          ctx.rotate(-Math.PI / 2);
          txt(ctx, t.s, 0, 0, t.size, 'center', 'middle', t.color);
          ctx.restore();
        } else {
          txt(ctx, t.s, t.x, t.y - off, t.size, t.align || 'left', t.base || 'alphabetic', t.color);
        }
      });
      ctx.restore();
    }
  };
}

function line(data, color, width) {
  return {data, borderColor: color, borderWidth: width || 1.0, pointRadius: 0, tension: 0, spanGaps: false, fill: false};
}

function makeChart(id, top, height, padTop, padBottom, yScale, datasets, c, extraScales) {
  const cv = document.getElementById(id);
  cv.width = 2051; cv.height = height;
  cv.style.top = top + 'px';
  c.top = top;
  const scales = Object.assign({
    x: {type: 'linear', min: 0, max: 48, display: false},
    y: Object.assign({display: false}, yScale)
  }, extraScales || {});
  return new Chart(cv, {
    type: 'line',
    data: {datasets},
    options: {
      responsive: false, animation: false, devicePixelRatio: 1, events: [],
      layout: {padding: {left: 123, right: 171, top: padTop, bottom: padBottom}},
      scales,
      plugins: {legend: {display: false}, tooltip: {enabled: false}}
    },
    plugins: [makeDeco(c)]
  });
}

// panel 1: X-rays
makeChart('cX', 0, 335, 18, 8, {type: 'logarithmic', min: 1e-10, max: 1e-3}, [
  line(pairs(xlData), '#000000', 1.2),
  line(pairs(xsData), '#0000ff', 1.2)
], {
  log: true,
  hlines: [[1e-4, true], [1e-5, true], [1e-6, true], [1e-7, false], [1e-8, false], [1e-9, false]],
  flares: [['X Flare', 1e-4], ['M Flare', 1e-5], ['C Flare', 1e-6]],
  keys: [['#000', 158], ['#0000ff', 242]],
  texts: [
    {s: 'GOES Space Environment Monitor', x: 1001, y: 11, size: 40, align: 'center'},
    {s: 'GOES-7 Solar X-Rays (1-Min Avgs)', x: 170, y: 43, size: 24, base: 'middle'},
    {s: 'Watts/m²', x: 28, y: 174, size: 30, rot: true},
    {s: 'XL', x: 1918, y: 161, size: 22},
    {s: 'XS', x: 1918, y: 245, size: 22}
  ]
});

// panel 2: particles
makeChart('cP', 335, 550, 2, 6, {type: 'logarithmic', min: 1e-4, max: 1e5}, [
  line(pairs(e1Data), '#000000', 1.2),
  line(grid10(i1Vals), '#9b3fa8'),
  line(grid10(i7Vals), '#ff0000'),
  line(grid10(i6Vals), '#00dd00'),
  line(grid10(i5Vals), '#2a8a2a'),
  line(grid10(i4Vals), '#a03030'),
  line(grid10(i3Vals), '#0000ff'),
  line(grid10(i2Vals), '#2a2aa0'),
  line(pairs(a6Data), '#ff00ff'),
  line(grid10(a5Vals), '#00a8a8')
], {
  log: true,
  hlines: [[1e4, false], [1e3, false], [1e2, false], [1e1, false], [1, false], [0.1, false], [0.01, false], [1e-3, false]],
  keys: [['#000', 464], ['#9b3fa8', 595], ['#2a2aa0', 672], ['#2a8a2a', 678], ['#00dd00', 683], ['#ff0000', 701], ['#ff00ff', 858], ['#00a8a8', 865]],
  texts: [
    {s: 'GOES-7 Electrons and GOES-7 Protons & α-Particles (5-Min Avgs)', x: 170, y: 366, size: 24, base: 'middle'},
    {s: 'Particles/cm²sec sr', x: 33, y: 536, size: 39, rot: true},
    {s: 'E1', x: 1918, y: 467, size: 22},
    {s: 'I1', x: 1918, y: 598, size: 22},
    {s: 'I2', x: 1918, y: 675, size: 22},
    {s: 'I3', x: 1946, y: 677, size: 22},
    {s: 'I4', x: 1974, y: 684, size: 22},
    {s: 'I5', x: 2002, y: 684, size: 22},
    {s: 'I6', x: 2030, y: 684, size: 22},
    {s: 'I7', x: 1918, y: 704, size: 22},
    {s: 'A6', x: 1918, y: 861, size: 22},
    {s: 'A5', x: 1946, y: 868, size: 22}
  ]
});

// panel 3: magnetic field, with the noon/midnight markers hung just under it
makeChart('cM', 885, 322, 7, 13, {type: 'linear', min: -200, max: 200}, [
  line(pairs(hpData), '#000000', 1.2),
  {data: markHours.map(h => ({x: h, y: -1})), yAxisID: 'ym', showLine: false, clip: false,
   pointStyle: 'triangle', pointRadius: 6, pointBorderWidth: 1.3, pointBorderColor: '#000',
   pointBackgroundColor: markFilled.map(f => f ? '#000' : '#fff')}
], {
  log: false, major: 100, minor: 100,
  hlines: [[100, false], [0, true], [-100, false]],
  keys: [['#000', 981]],
  texts: [
    {s: 'GOES-7 Magnetic Field (1-Min Avgs, 74.5°W)', x: 170, y: 1165, size: 24, base: 'middle'},
    {s: 'nT', x: 26, y: 1044, size: 30, rot: true},
    {s: 'Hp', x: 1918, y: 984, size: 22}
  ]
}, {ym: {type: 'linear', min: 0, max: 43, display: false}});

// panel 4: neutron monitor
const nmPts = nmVals.map((v, h) => ({x: h, y: v}));
nmPts.push({x: 48, y: nmVals[nmVals.length - 1]});
makeChart('cN', 1205, 257, 3, 100, {type: 'linear', min: 80, max: 120}, [
  {data: nmPts, stepped: 'after', borderColor: '#4a4a4a', borderWidth: 1, pointRadius: 0, fill: {value: 100}, backgroundColor: '#4a4a4a'}
], {
  log: false, major: 10, minor: 5, baseLine: 100, xlabels: true,
  hlines: [[110, false], [90, false]],
  texts: [
    {s: 'McMurdo Neutron Monitor (final, hourly, % of monthly mean)', x: 170, y: 1236, size: 24, base: 'middle'},
    {s: '%', x: 37, y: 1286, size: 30, rot: true},
    {s: '17', x: 124, y: 1410, size: 31, base: 'middle'},
    {s: '18', x: 1004, y: 1410, size: 31, align: 'center', base: 'middle'},
    {s: 'March 1988', x: 124, y: 1444, size: 33, base: 'middle'},
    {s: 'Universal Time', x: 1002, y: 1444, size: 33, align: 'center', base: 'middle'}
  ]
});
</script>
</body>
</html>
